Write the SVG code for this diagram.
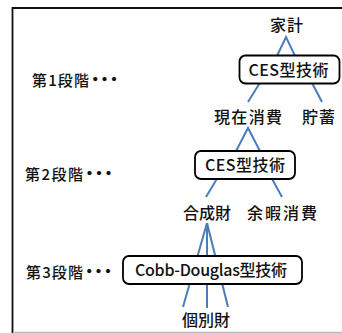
<svg xmlns="http://www.w3.org/2000/svg" width="342" height="333" viewBox="0 0 342 333">
<style>
.lbl{font-family:"Noto Sans CJK JP","Noto Sans",sans-serif;font-size:16px;font-weight:500;fill:#111;text-anchor:middle}
.stage{font-family:"Noto Sans CJK JP","Noto Sans",sans-serif;font-size:15px;font-weight:500;fill:#111}
.dot{font-weight:900;font-size:20px;letter-spacing:-0.5px}
.box{fill:#fff;stroke:#000;stroke-width:1.8}
.edge{stroke:#4a7ebb;stroke-width:2;fill:none}
</style>
<rect x="0" y="0" width="342" height="333" fill="#fff"/>
<g id="frame">
<line x1="12.5" y1="8" x2="342" y2="8" stroke="#111" stroke-width="1.8"/>
<line x1="12.5" y1="7" x2="12.5" y2="333" stroke="#111" stroke-width="1.8"/>
<line x1="13" y1="332.3" x2="342" y2="332.3" stroke="#b8b8b8" stroke-width="1.2"/>
</g>
<g id="connectors">
<polyline class="edge" points="275,60 286,37 297,60"/>
<line class="edge" x1="261" y1="81" x2="248" y2="102"/>
<line class="edge" x1="311" y1="81" x2="322" y2="102"/>
<polyline class="edge" points="234,155 248,128 262,155"/>
<line class="edge" x1="218" y1="177" x2="206" y2="197"/>
<line class="edge" x1="271" y1="177" x2="282" y2="197"/>
<line class="edge" x1="207" y1="223" x2="183" y2="307"/>
<line class="edge" x1="207" y1="223" x2="207" y2="308"/>
<line class="edge" x1="207" y1="223" x2="228" y2="307"/>
</g>
<g id="stage1"><text class="stage" x="32" y="86"><tspan textLength="57" lengthAdjust="spacing">第1段階</tspan><tspan class="dot" dy="1">･･･</tspan></text></g>
<g id="stage2"><text class="stage" x="25" y="180"><tspan textLength="58" lengthAdjust="spacing">第2段階</tspan><tspan class="dot" dy="1">･･･</tspan></text></g>
<g id="stage3"><text class="stage" x="26" y="278"><tspan textLength="57" lengthAdjust="spacing">第3段階</tspan><tspan class="dot" dy="1">･･･</tspan></text></g>
<g id="kakei"><text class="lbl" x="286.5" y="31" textLength="33" lengthAdjust="spacing">家計</text></g>
<g id="ces1"><rect class="box" x="239.5" y="55.5" width="100" height="28" rx="6"/><text class="lbl" x="288.5" y="76" textLength="80" lengthAdjust="spacing">CES型技術</text></g>
<g id="genzai"><text class="lbl" x="248" y="123" textLength="68" lengthAdjust="spacing">現在消費</text></g>
<g id="chochiku"><text class="lbl" x="318.5" y="123" textLength="33" lengthAdjust="spacing">貯蓄</text></g>
<g id="ces2"><rect class="box" x="195" y="151" width="100" height="28" rx="6"/><text class="lbl" x="245" y="171" textLength="80" lengthAdjust="spacing">CES型技術</text></g>
<g id="gousei"><text class="lbl" x="207" y="219" textLength="48" lengthAdjust="spacing">合成財</text></g>
<g id="yoka"><text class="lbl" x="282" y="219" textLength="70" lengthAdjust="spacing">余暇消費</text></g>
<g id="cobb"><rect class="box" x="123" y="256" width="179" height="28" rx="6"/><text class="lbl" x="211" y="276" textLength="152" lengthAdjust="spacing">Cobb-Douglas型技術</text></g>
<g id="kobetsu"><text class="lbl" x="206" y="326" textLength="48" lengthAdjust="spacing">個別財</text></g>
</svg>
